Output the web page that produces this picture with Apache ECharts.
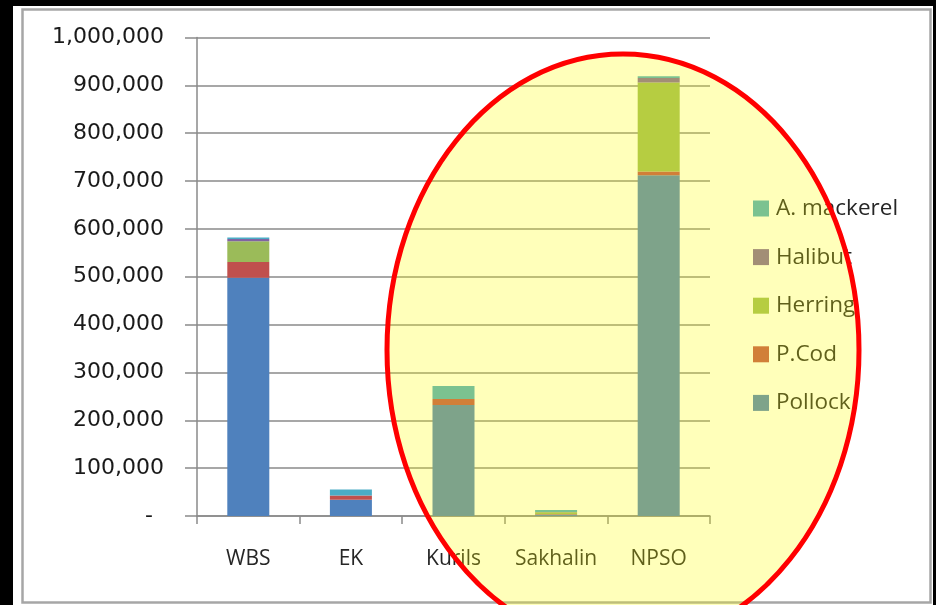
<!DOCTYPE html>
<html>
<head>
<meta charset="utf-8">
<script src="https://cdn.jsdelivr.net/npm/echarts@6/dist/echarts.min.js"></script>
<style>
  html, body { margin: 0; padding: 0; background: #000; }
  #chart { width: 936px; height: 605px; }
</style>
</head>
<body>
<div id="chart"></div>
<script>
// Catch by region and species (tonnes)
const regions = ['WBS', 'EK', 'Kurils', 'Sakhalin', 'NPSO'];
const pollock   = [498000, 34000, 232000, 3000, 712000];
const pCod      = [33000, 9000, 12500, 1000, 8000];
const herring   = [43000, 0, 0, 4000, 186000];
const halibut   = [5000, 0, 0, 500, 9500];
const aMackerel = [3000, 12500, 27000, 4000, 3500];

const speciesNames = ['Pollock', 'P.Cod', 'Herring', 'Halibut', 'A. mackerel'];
const speciesValues = [pollock, pCod, herring, halibut, aMackerel];
const speciesColors = ['#4F81BD', '#C0504D', '#9BBB59', '#8064A2', '#4BACC6'];

const chart = echarts.init(document.getElementById('chart'));

const axisGray = '#8a8a8a';
const labelFont = '"Open Sans", "Noto Sans", sans-serif';

function fmtThousands(v) {
  if (v === 0) return '{z|-}';
  return String(v).replace(/\B(?=(\d{3})+(?!\d))/g, ',');
}

chart.setOption({
  animation: false,
  backgroundColor: '#000',
  grid: { left: 197, top: 37.5, right: 226, bottom: 89, containLabel: false },
  legend: {
    orient: 'vertical',
    left: 748,
    top: 192,
    itemWidth: 16,
    itemHeight: 16,
    itemGap: 25.6,
    icon: 'rect',
    data: speciesNames.slice().reverse(),
    textStyle: {
      fontFamily: labelFont, fontSize: 22.5, color: '#262626',
      padding: [0, 0, 0, 2]
    }
  },
  xAxis: {
    type: 'category',
    data: regions,
    axisLine: { lineStyle: { color: axisGray, width: 1.5 } },
    axisTick: { show: true, length: 8, inside: false, lineStyle: { color: axisGray, width: 1.5 } },
    axisLabel: { interval: 0, margin: 33, fontFamily: labelFont, fontSize: 21, color: '#262626' }
  },
  yAxis: {
    type: 'value',
    min: 0, max: 1000000, interval: 100000,
    axisLine: { show: true, lineStyle: { color: axisGray, width: 1.5 } },
    axisTick: { show: true, length: 12, lineStyle: { color: axisGray, width: 1.5 } },
    splitLine: { show: true, lineStyle: { color: axisGray, width: 1.5 } },
    axisLabel: {
      margin: 33,
      fontFamily: '"DejaVu Sans", Verdana, sans-serif',
      fontSize: 22,
      color: '#1a1a1a',
      formatter: fmtThousands,
      rich: { z: { fontFamily: '"DejaVu Sans", sans-serif', fontSize: 22, color: '#1a1a1a', padding: [0, 11, 0, 0] } }
    }
  },
  series: speciesNames.map((name, i) => ({
    name: name,
    type: 'bar',
    stack: 'catch',
    barWidth: 42,
    data: speciesValues[i],
    itemStyle: { color: speciesColors[i] }
  })),
  graphic: [
    {
      type: 'rect', z: -10, silent: true,
      shape: { x: 13, y: 6, width: 920, height: 600 },
      style: { fill: '#ffffff' }
    },
    {
      type: 'rect', z: -9, silent: true,
      shape: { x: 22.5, y: 9.5, width: 908, height: 593 },
      style: { fill: null, stroke: '#a6a6a6', lineWidth: 2.5 }
    },
    {
      type: 'ellipse', z: 100, silent: true,
      shape: { cx: 623, cy: 350, rx: 236, ry: 296 },
      style: { fill: 'rgba(255,255,0,0.27)', stroke: '#ff0000', lineWidth: 5 }
    }
  ]
});
</script>
</body>
</html>
